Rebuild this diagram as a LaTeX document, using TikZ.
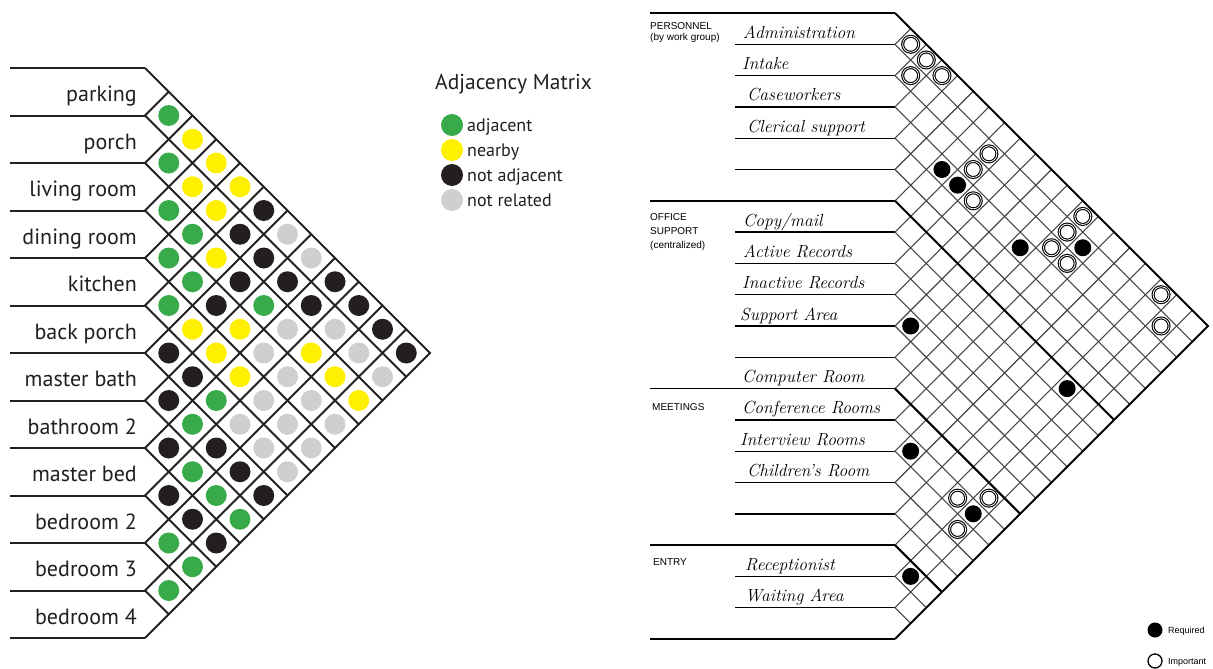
\documentclass[tikz,border=0pt]{standalone}
\usepackage{fontspec}
\newfontfamily\labfont{PT Sans}
\newfontfamily\capfont{Liberation Sans}
\definecolor{cG}{RGB}{57,170,74}
\definecolor{cY}{RGB}{255,240,0}
\definecolor{cK}{RGB}{35,31,32}
\definecolor{cL}{RGB}{206,207,209}
\definecolor{gridc}{RGB}{70,70,70}
\begin{document}
\begin{tikzpicture}[x=1pt,y=-1pt,
  lline/.style={line width=2pt,draw=cK},
  rowline/.style={line width=1.4pt,draw=black},
  rgrid/.style={line width=1.1pt,draw=gridc},
  rbold/.style={line width=2pt,draw=black},
  lab/.style={font=\labfont\fontsize{22}{24}\selectfont,anchor=base east,inner sep=0pt,text=cK},
  leg/.style={font=\labfont\fontsize{18}{20}\selectfont,anchor=base west,inner sep=0pt,text=cK},
  hand/.style={font=\itshape\fontsize{17.5}{19}\selectfont,anchor=base west,inner sep=0pt},
  grp/.style={font=\capfont\fontsize{10}{11}\selectfont,anchor=base west,inner sep=0pt},
  smalltxt/.style={font=\capfont\fontsize{9}{10}\selectfont,anchor=base west,inner sep=0pt},
  imp/.style={draw=black,line width=1.1pt,double=white,double distance=0.8pt,fill=white},
]
\useasboundingbox (0,0) rectangle (1213,669);
\fill[white] (0,0) rectangle (1213,669);

% ---------------- left matrix ----------------
\foreach \k in {0,...,12}{
  \pgfmathsetmacro\myY{68+47.5*\k}
  \draw[lline] (10,\myY) -- (145,\myY);
}
\foreach \k in {1,...,11}{
  \pgfmathsetmacro\myY{68+47.5*\k}
  \pgfmathsetmacro\myA{(638-\myY)/2}
  \pgfmathsetmacro\myB{(\myY-68)/2}
  \draw[lline] (145+\myB,\myY-\myB) -- (145,\myY) -- (145+\myA,\myY+\myA);
}
\draw[lline,line join=miter] (145,68) -- (430,353) -- (145,638);

\foreach \i/\j/\c in {
  0/1/G,0/2/Y,0/3/Y,0/4/Y,0/5/K,0/6/L,0/7/L,0/8/K,0/9/K,0/10/K,0/11/K,
  1/2/G,1/3/Y,1/4/Y,1/5/K,1/6/K,1/7/K,1/8/K,1/9/L,1/10/L,1/11/L,
  2/3/G,2/4/G,2/5/Y,2/6/K,2/7/G,2/8/L,2/9/Y,2/10/Y,2/11/Y,
  3/4/G,3/5/G,3/6/K,3/7/Y,3/8/L,3/9/L,3/10/L,3/11/L,
  4/5/G,4/6/Y,4/7/Y,4/8/Y,4/9/L,4/10/L,4/11/L,
  5/6/K,5/7/K,5/8/G,5/9/L,5/10/L,5/11/L,
  6/7/K,6/8/G,6/9/K,6/10/K,6/11/K,
  7/8/K,7/9/G,7/10/G,7/11/G,
  8/9/K,8/10/K,8/11/K,
  9/10/G,9/11/G,
  10/11/G}{
  \fill[c\c] ({145+23.75*(\j-\i)},{68+23.75*(\i+\j+1)}) circle[radius=10.5pt];
}

\foreach \t [count=\n from 0] in {parking,porch,living room,dining room,kitchen,back porch,master bath,bathroom 2,master bed,bedroom 2,bedroom 3,bedroom 4}{
  \node[lab] (room\n) at (137,{68+47.5*\n+33.5}) {\t};
}

% legend
\node[leg,font=\labfont\fontsize{21.5}{23}\selectfont] (title) at (435,89) {Adjacency Matrix};
\foreach \c/\t/\y [count=\n] in {G/adjacent/125,Y/nearby/150,K/not adjacent/175,L/not related/200}{
  \fill[c\c] (452,\y) circle[radius=11pt];
  \node[leg] (leg\n) at (467,\y+6) {\t};
}

% ---------------- right matrix ----------------
\foreach \k in {1,2,3,4,5,7,8,9,10,11,13,14,15,16,18,19}{
  \pgfmathsetmacro\myY{13+31.3*\k}
  \draw[rowline] (735,\myY) -- (895,\myY);
}
\foreach \k in {0,6,12,17,20}{
  \pgfmathsetmacro\myY{13+31.3*\k}
  \draw[rowline] (650,\myY) -- (895,\myY);
}
\foreach \k in {1,...,19}{
  \pgfmathsetmacro\myY{13+31.3*\k}
  \pgfmathsetmacro\myA{(639-\myY)/2}
  \pgfmathsetmacro\myB{(\myY-13)/2}
  \draw[rgrid] (895+\myB,\myY-\myB) -- (895,\myY) -- (895+\myA,\myY+\myA);
}
\foreach \k in {6,12,17}{
  \pgfmathsetmacro\myY{13+31.3*\k}
  \pgfmathsetmacro\myA{(639-\myY)/2}
  \draw[rbold] (895,\myY) -- (895+\myA,\myY+\myA);
}
\draw[rbold,line join=miter] (895,13) -- (1208,326) -- (895,639);

\foreach \i/\j in {3/6,3/7,3/11,1/13,9/10,6/17,13/14,13/18,17/18}{
  \fill[black] ({895+15.65*(\j-\i)},{13+15.65*(\i+\j+1)}) circle[radius=8.5pt];
}
\foreach \i/\j in {0/1,0/2,1/2,0/3,1/7,2/7,3/8,0/12,1/12,2/12,2/13,0/17,1/18,13/17,12/18,14/18}{
  \path[imp] ({895+15.65*(\j-\i)},{13+15.65*(\i+\j+1)}) circle[radius=8pt];
}

% group labels
\node[grp] (gPers) at (650,30) {PERSONNEL};
\node[grp] (gPersB) at (650,41) {(by work group)};
\node[grp] (gOff) at (650,220) {OFFICE};
\node[grp] (gOffB) at (650,234) {SUPPORT};
\node[grp] (gOffC) at (650,248) {(centralized)};
\node[grp] (gMeet) at (652,410) {MEETINGS};
\node[grp] (gEnt) at (653,565) {ENTRY};

% handwritten row labels
\node[hand] (h0) at (743,38.3) {Administration};
\node[hand] (h1) at (742,69.6) {Intake};
\node[hand] (h2) at (747,100.9) {Caseworkers};
\node[hand] (h3) at (747,132.2) {Clerical support};
\node[hand] (h6) at (743,226.1) {Copy/mail};
\node[hand] (h7) at (743,257.4) {Active Records};
\node[hand] (h8) at (742,288.7) {Inactive Records};
\node[hand] (h9) at (740,320) {Support Area};
\node[hand] (h11) at (742,382.6) {Computer Room};
\node[hand] (h12) at (742,413.9) {Conference Rooms};
\node[hand] (h13) at (740,445.2) {Interview Rooms};
\node[hand] (h14) at (747,476.5) {Children's Room};
\node[hand] (h17) at (745,570.4) {Receptionist};
\node[hand] (h18) at (745,601.7) {Waiting Area};

% right legend
\fill[black] (1155,630) circle[radius=7.5pt];
\node[smalltxt] (req) at (1168,633) {Required};
\draw[line width=1.3pt] (1155,661) circle[radius=7pt];
\node[smalltxt] (impt) at (1168,664) {Important};
\end{tikzpicture}
\end{document}
